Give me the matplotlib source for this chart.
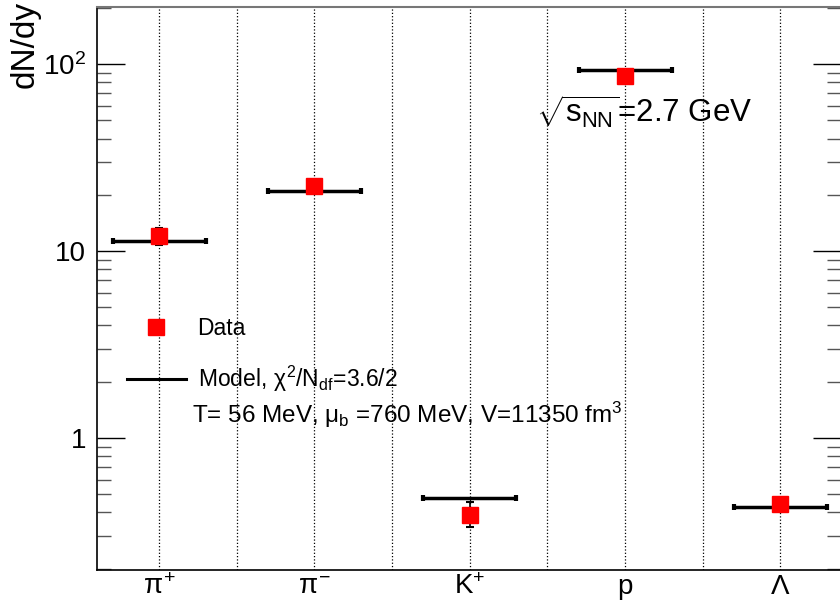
import numpy as np
import matplotlib.pyplot as plt
from matplotlib.lines import Line2D
from matplotlib.ticker import FixedLocator, FuncFormatter, LogLocator, NullFormatter

plt.rcParams['font.family'] = ['Liberation Sans', 'DejaVu Sans']
plt.rcParams['mathtext.fontset'] = 'custom'
plt.rcParams['mathtext.rm'] = 'Liberation Sans'
plt.rcParams['mathtext.it'] = 'Liberation Sans'
plt.rcParams['mathtext.sf'] = 'Liberation Sans'

# Data
particles = [r'$\pi^{+}$', r'$\pi^{-}$', r'K$^{+}$', 'p', r'$\Lambda$']
data_yield = [12.0, 22.3, 0.39, 86.0, 0.444]
data_err_lo = [1.2, 1.0, 0.056, 7.0, 0.025]
data_err_hi = [1.3, 1.0, 0.065, 6.0, 0.025]
model_yield = [11.3, 20.9, 0.478, 93.0, 0.428]
model_halfwidth = 0.3

x = np.arange(len(particles))

fig = plt.figure(figsize=(8.4, 6.01), dpi=100)
ax = fig.add_axes([97 / 840, 31 / 601, 744 / 840, 563 / 601])

# dotted lines at category centres and bin edges
for xc in np.arange(-0.5, len(particles), 0.5):
    ax.axvline(xc, color='black', ls=':', lw=0.9, zorder=0)

ax.errorbar(x, model_yield, xerr=model_halfwidth, fmt='none', ecolor='black',
            elinewidth=2.5, capsize=2.5, capthick=3, zorder=2)
ax.errorbar(x, data_yield, yerr=[data_err_lo, data_err_hi], fmt='s', color='red',
            ms=11, mec='red', ecolor='black', elinewidth=1.2, capsize=3,
            capthick=1.5, zorder=3)

ax.set_yscale('log')
ax.set_ylim(0.197, 202)
ax.set_xlim(-0.4, 4.39)

ax.set_xticks(x)
ax.set_xticklabels(particles, fontsize=20)
ax.tick_params(axis='x', length=0, pad=3)

ax.yaxis.set_major_locator(FixedLocator([1, 10, 100]))
ax.yaxis.set_minor_locator(LogLocator(base=10, subs=np.arange(2, 10)))
ax.yaxis.set_minor_formatter(NullFormatter())
ax.yaxis.set_major_formatter(FuncFormatter(
    lambda v, p: {1: '1', 10: '10', 100: r'10$^{2}$'}.get(int(round(v)), '')))
ax.tick_params(axis='y', which='major', direction='in', length=20, width=1,
               labelsize=20, right=True, pad=8)
ax.tick_params(axis='y', which='minor', direction='in', length=10, width=1,
               right=True, color='#555555')

for side in ['left', 'bottom']:
    ax.spines[side].set_linewidth(1.2)
ax.spines['top'].set_color('#777777')
ax.spines['top'].set_linewidth(1.5)

fig.text(25 / 840, 1 - 1 / 601, 'dN/dy', rotation=90, ha='center', va='top',
         fontsize=24)

ax.text(0.59, 0.813, r'$\sqrt{s_{NN}}$=2.7 GeV', transform=ax.transAxes,
        fontsize=22.5, ha='left', va='center')

h_data = Line2D([], [], ls='none', marker='s', color='red', ms=11)
h_model = Line2D([], [], color='black', lw=2.2)
leg = ax.legend([h_data, h_model],
                ['Data', r'Model, $\chi^{2}$/N$_{df}$=3.6/2'],
                loc='upper left', bbox_to_anchor=(0.012, 0.486), frameon=False,
                fontsize=16.5, labelspacing=1.05, handlelength=2.6,
                handletextpad=0.5)

ax.text(0.128, 0.275, r'T= 56 MeV, $\mu_{b}$ =760 MeV, V=11350 fm$^{3}$',
        transform=ax.transAxes, fontsize=17.5, ha='left', va='center')

fig.savefig('out.png', dpi=100)
